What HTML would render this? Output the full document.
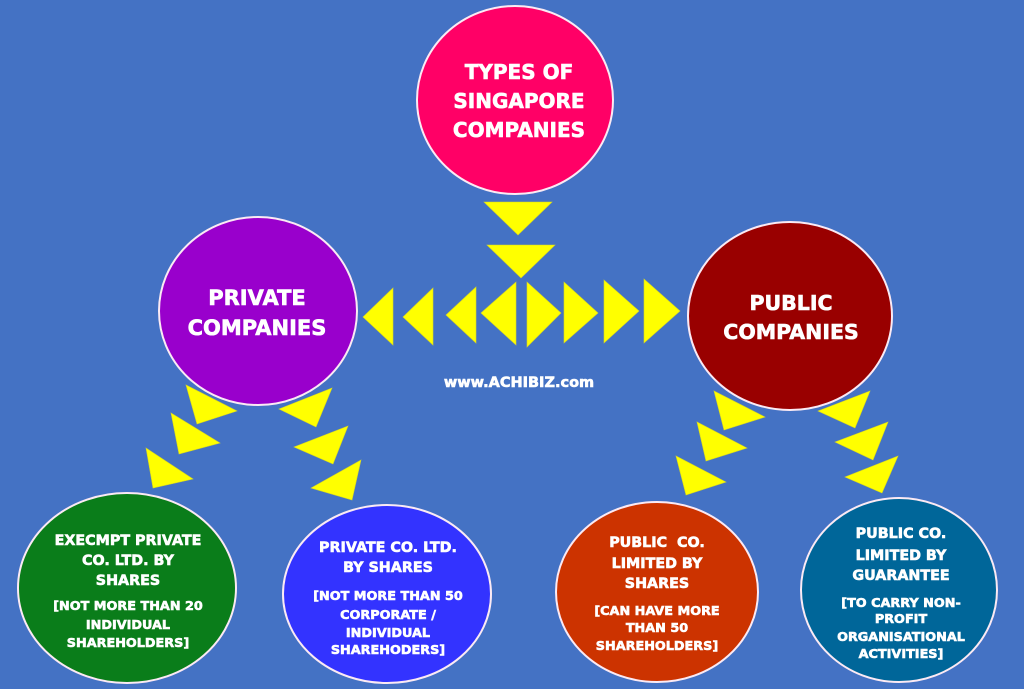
<!DOCTYPE html>
<html>
<head>
<meta charset="utf-8">
<style>
  html,body{margin:0;padding:0;background:#4472c4;}
  svg{display:block;}
  text{font-family:"DejaVu Sans","Liberation Sans",sans-serif;font-weight:bold;fill:#fff;text-anchor:middle;stroke:#fff;stroke-width:0.6;}
</style>
</head>
<body>
<svg width="1024" height="689" viewBox="0 0 1024 689" xmlns="http://www.w3.org/2000/svg">
  <rect width="1024" height="689" fill="#4472c4"/>

  <!-- circles -->
  <g stroke="#fbeaf4" stroke-width="2">
    <ellipse cx="515" cy="100" rx="98" ry="94" fill="#ff0066"/>
    <ellipse cx="258" cy="311" rx="99" ry="94" fill="#9900cc"/>
    <ellipse cx="790" cy="316" rx="102" ry="94" fill="#990000"/>
    <ellipse cx="127" cy="588" rx="109" ry="95" fill="#0a7d1a"/>
    <ellipse cx="387" cy="594" rx="104" ry="89" fill="#3333ff"/>
    <ellipse cx="657" cy="592" rx="101" ry="90" fill="#cc3300"/>
    <ellipse cx="899" cy="590" rx="98" ry="92" fill="#006699"/>
  </g>

  <!-- triangles -->
  <g fill="#ffff00" stroke="#d8d820" stroke-width="0.6">
    <polygon points="484,202 552,202 518,235"/>
    <polygon points="487,245 555,245 521,278"/>

    <polygon points="363,317 393,288 393,345"/>
    <polygon points="403,317 433,288 433,345"/>
    <polygon points="446,315 476,287 476,343"/>
    <polygon points="481,313 516,282 516,345"/>
    <polygon points="527,282 527,347 561,313"/>
    <polygon points="564,282 564,343 598,313"/>
    <polygon points="604,280 604,343 639,311"/>
    <polygon points="644,279 644,343 680,311"/>

    <polygon points="186,385 197,424 237,411"/>
    <polygon points="171,413 179,454 220,443"/>
    <polygon points="146,448 153,488 193,479"/>
    <polygon points="332,388 279,409 316,427"/>
    <polygon points="348,426 294,447 333,464"/>
    <polygon points="361,460 311,488 352,500"/>

    <polygon points="714,391 724,430 765,417"/>
    <polygon points="697,422 706,461 747,448"/>
    <polygon points="676,456 686,495 726,482"/>
    <polygon points="870,391 818,411 855,428"/>
    <polygon points="888,422 835,442 873,460"/>
    <polygon points="898,456 845,477 882,493"/>
  </g>

  <!-- top circle text -->
  <g font-size="20">
    <text x="519" y="79">TYPES OF</text>
    <text x="519" y="108">SINGAPORE</text>
    <text x="519" y="137">COMPANIES</text>
  </g>

  <!-- private / public -->
  <g font-size="21">
    <text x="257" y="305">PRIVATE</text>
    <text x="257" y="335">COMPANIES</text>
  </g>
  <g font-size="20.5">
    <text x="791" y="310">PUBLIC</text>
    <text x="791" y="339">COMPANIES</text>
  </g>

  <text x="519" y="387" font-size="14.5">www.ACHIBIZ.com</text>

  <!-- green -->
  <g font-size="14.3">
    <text x="128" y="545">EXECMPT PRIVATE</text>
    <text x="128" y="565">CO. LTD. BY</text>
    <text x="128" y="585">SHARES</text>
  </g>
  <g font-size="12.8">
    <text x="128" y="610">[NOT MORE THAN 20</text>
    <text x="128" y="629">INDIVIDUAL</text>
    <text x="128" y="647">SHAREHOLDERS]</text>
  </g>

  <!-- blue -->
  <g font-size="14.3">
    <text x="388" y="552">PRIVATE CO. LTD.</text>
    <text x="388" y="572">BY SHARES</text>
  </g>
  <g font-size="12.8">
    <text x="388" y="600">[NOT MORE THAN 50</text>
    <text x="388" y="619">CORPORATE /</text>
    <text x="388" y="637">INDIVIDUAL</text>
    <text x="388" y="654">SHAREHODERS]</text>
  </g>

  <!-- orange -->
  <g font-size="14.3">
    <text x="657" y="547" xml:space="preserve">PUBLIC  CO.</text>
    <text x="657" y="568">LIMITED BY</text>
    <text x="657" y="588">SHARES</text>
  </g>
  <g font-size="12.8">
    <text x="657" y="615">[CAN HAVE MORE</text>
    <text x="657" y="632">THAN 50</text>
    <text x="657" y="650">SHAREHOLDERS]</text>
  </g>

  <!-- teal -->
  <g font-size="14.3">
    <text x="901" y="538">PUBLIC CO.</text>
    <text x="901" y="560">LIMITED BY</text>
    <text x="901" y="580">GUARANTEE</text>
  </g>
  <g font-size="12.8">
    <text x="901" y="607">[TO CARRY NON-</text>
    <text x="901" y="623">PROFIT</text>
    <text x="901" y="641">ORGANISATIONAL</text>
    <text x="901" y="658">ACTIVITIES]</text>
  </g>
</svg>
</body>
</html>
